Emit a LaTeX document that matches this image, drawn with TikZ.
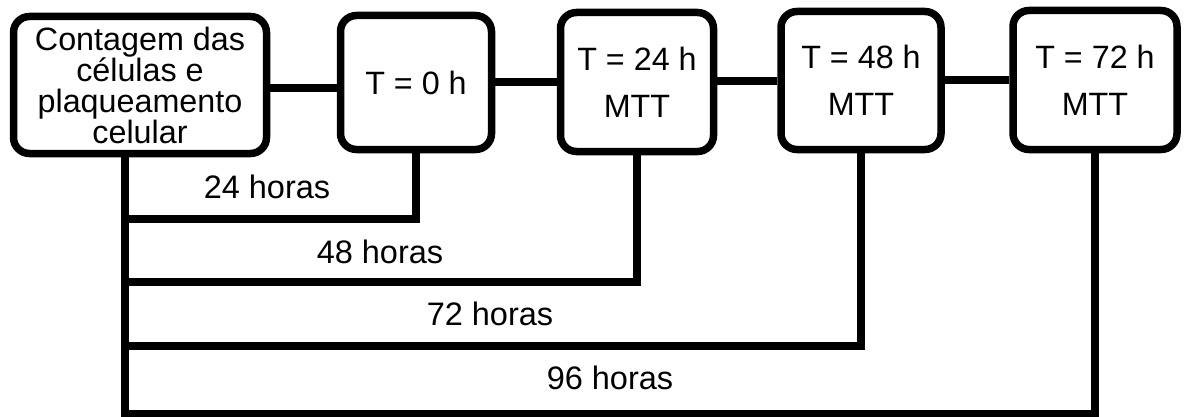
\documentclass[tikz,border=0pt]{standalone}
\usepackage{fontspec}
\setmainfont{Liberation Sans}
\usetikzlibrary{shadows}
\begin{document}
\begin{tikzpicture}[x=1pt,y=-1pt,
  box/.style={draw=black, line width=7.5pt, rounded corners=16pt, fill=white,
    align=center, inner sep=0pt,
    drop shadow={shadow xshift=1.5pt, shadow yshift=-2.5pt, opacity=0.25, fill=black}},
  conn/.style={draw=black, line width=7.5pt, line join=miter},
  lbl/.style={font=\fontsize{32.5}{31}\selectfont, inner sep=0pt}]
\useasboundingbox (0,0) rectangle (1185,417);
\fill[white] (0,0) rectangle (1185,417);

\node[box, minimum width=253pt, minimum height=137pt, font=\fontsize{32.3}{31}\selectfont] (b1) at (140,85)
  {Contagem das\\células e\\plaqueamento\\celular};
\node[box, minimum width=151pt, minimum height=134pt, font=\fontsize{32.3}{31}\selectfont] (b2) at (416,82.5) {T = 0 h};
\node[box, minimum width=153pt, minimum height=139pt, font=\fontsize{32.3}{46.7}\selectfont] (b3) at (637,82) {T = 24 h\\MTT};
\node[box, minimum width=160pt, minimum height=138pt, font=\fontsize{32.3}{46.7}\selectfont] (b4) at (861,80.5) {T = 48 h\\MTT};
\node[box, minimum width=164pt, minimum height=139pt, font=\fontsize{32.3}{46.7}\selectfont] (b5) at (1095,80) {T = 72 h\\MTT};

\draw[conn] (b1.east |- 0,88) -- (b2.west |- 0,88);
\draw[conn] (b2.east |- 0,82) -- (b3.west |- 0,82);
\draw[conn] (b3.east |- 0,81) -- (b4.west |- 0,81);
\draw[conn] (b4.east |- 0,80) -- (b5.west |- 0,80);

\coordinate (L) at ([xshift=-15pt]b1.south);
\draw[conn] (L) -- (L |- 0,414) -- (b5.south |- 0,414) -- (b5.south);
\draw[conn] (b2.south) -- (b2.south |- 0,219) -- (L |- 0,219);
\draw[conn] (b3.south) -- (b3.south |- 0,282) -- (L |- 0,282);
\draw[conn] (b4.south) -- (b4.south |- 0,346) -- (L |- 0,346);

\node[lbl] (l24) at (267,187) {24 horas};
\node[lbl] (l48) at (380,252) {48 horas};
\node[lbl] (l72) at (490,314) {72 horas};
\node[lbl] (l96) at (610,378) {96 horas};
\end{tikzpicture}
\end{document}
